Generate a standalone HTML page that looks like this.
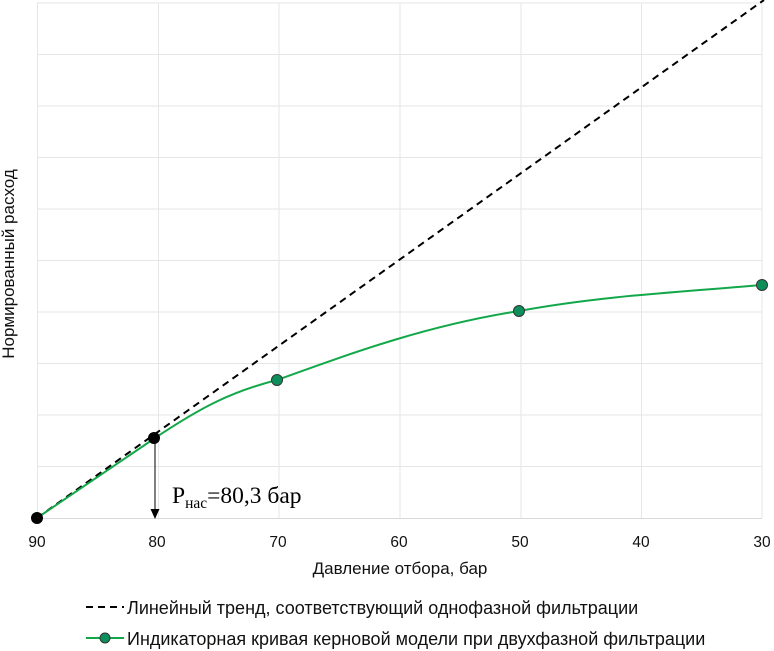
<!DOCTYPE html>
<html><head><meta charset="utf-8"><style>
html,body{margin:0;padding:0;background:#fff;}
svg{display:block;font-family:"Liberation Sans",sans-serif;}
</style></head><body>
<svg width="774" height="651" viewBox="0 0 774 651">
<g stroke="#e6e6e6" stroke-width="1">
<line x1="37" y1="3" x2="762" y2="3"/><line x1="37" y1="54.5" x2="762" y2="54.5"/><line x1="37" y1="106" x2="762" y2="106"/><line x1="37" y1="157.5" x2="762" y2="157.5"/><line x1="37" y1="209" x2="762" y2="209"/><line x1="37" y1="260.5" x2="762" y2="260.5"/><line x1="37" y1="312" x2="762" y2="312"/><line x1="37" y1="363.5" x2="762" y2="363.5"/><line x1="37" y1="415" x2="762" y2="415"/><line x1="37" y1="466.5" x2="762" y2="466.5"/>
<line x1="37.5" y1="3" x2="37.5" y2="518"/><line x1="158.5" y1="3" x2="158.5" y2="518"/><line x1="279" y1="3" x2="279" y2="518"/><line x1="400" y1="3" x2="400" y2="518"/><line x1="521" y1="3" x2="521" y2="518"/><line x1="641.5" y1="3" x2="641.5" y2="518"/><line x1="762" y1="3" x2="762" y2="518"/>
</g>
<line x1="37" y1="518.5" x2="762" y2="518.5" stroke="#d9d9d9" stroke-width="1"/>
<line x1="37" y1="518" x2="764" y2="0" stroke="#000" stroke-width="2" stroke-dasharray="7,5"/>
<path d="M37,518 L155,438 C200,408 230,392 277,380 C360,350 430,325 519,311 C600,296 680,292 762,285" fill="none" stroke="#12a84a" stroke-width="2"/>
<line x1="155" y1="440" x2="155" y2="510" stroke="#000" stroke-width="1"/>
<polygon points="150.5,509 159.5,509 155,519" fill="#000"/>
<circle cx="277" cy="380" r="5.5" fill="#0c8f5a" stroke="#333" stroke-width="1"/>
<circle cx="519" cy="311" r="5.5" fill="#0c8f5a" stroke="#333" stroke-width="1"/>
<circle cx="762" cy="285" r="5.5" fill="#0c8f5a" stroke="#333" stroke-width="1"/>
<circle cx="37" cy="518" r="6" fill="#000"/>
<circle cx="154" cy="438" r="6" fill="#000"/>
<text x="172" y="503" font-family="Liberation Serif,serif" font-size="23.5">P<tspan font-size="15.5" dy="5">нас</tspan><tspan dy="-5">=80,3 бар</tspan></text>
<g font-size="15.5" text-anchor="middle" fill="#111">
<text x="37" y="547">90</text><text x="157" y="547">80</text><text x="278" y="547">70</text><text x="399" y="547">60</text><text x="520" y="547">50</text><text x="641" y="547">40</text><text x="762" y="547">30</text>
</g>
<g font-size="17" text-anchor="middle" fill="#111">
<text x="400" y="574">Давление отбора, бар</text>
<text transform="translate(14,264) rotate(-90)">Нормированный расход</text>
</g>
<line x1="86" y1="607" x2="124" y2="607" stroke="#000" stroke-width="2" stroke-dasharray="7,5"/>
<line x1="86" y1="638" x2="124" y2="638" stroke="#12a84a" stroke-width="2"/>
<circle cx="105" cy="638" r="5" fill="#0c8f5a" stroke="#333" stroke-width="1"/>
<g font-size="18" fill="#111">
<text x="127" y="614">Линейный тренд, соответствующий однофазной фильтрации</text>
<text x="127" y="645">Индикаторная кривая керновой модели при двухфазной фильтрации</text>
</g>
</svg>
</body></html>
